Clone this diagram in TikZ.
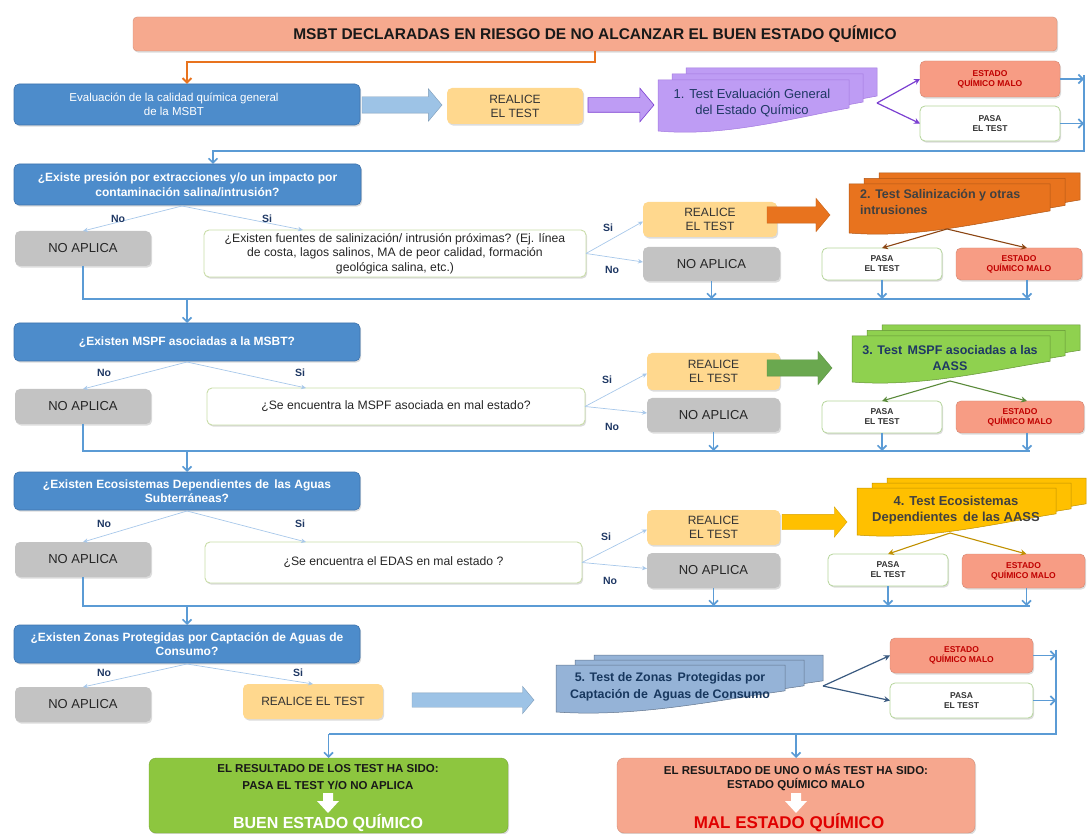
\documentclass[tikz,border=0pt]{standalone}
\usepackage{fontspec}
\setmainfont{Liberation Sans}
\usetikzlibrary{arrows.meta,shapes.arrows,shadows,calc}

\definecolor{titlefill}{HTML}{F6A98E}
\definecolor{orangeline}{HTML}{E8731E}
\definecolor{qblue}{HTML}{4D8CCB}
\definecolor{qbluedark}{HTML}{3F74AD}
\definecolor{realfill}{HTML}{FFD88E}
\definecolor{grayfill}{HTML}{C3C3C3}
\definecolor{qgreen}{HTML}{C9DDA8}
\definecolor{pasagreen}{HTML}{B5D59A}
\definecolor{malofill}{HTML}{F79C84}
\definecolor{malored}{HTML}{C00000}
\definecolor{navy}{HTML}{1F3864}
\definecolor{branchblue}{HTML}{A8C8EA}
\definecolor{flowblue}{HTML}{5B9BD5}
\definecolor{lightarrow}{HTML}{9DC3E6}
\definecolor{purplefill}{HTML}{BE9CF4}
\definecolor{purpleline}{HTML}{7B3FD1}
\definecolor{orangedoc}{HTML}{E8731E}
\definecolor{brownline}{HTML}{8B4513}
\definecolor{greendoc}{HTML}{8FD14F}
\definecolor{greenarrow}{HTML}{6AA84F}
\definecolor{greenline}{HTML}{5A8A3A}
\definecolor{yellowdoc}{HTML}{FFC000}
\definecolor{yellowline}{HTML}{C09000}
\definecolor{bluedoc}{HTML}{95B3D7}
\definecolor{bluedoctext}{HTML}{17375E}
\definecolor{darkslate}{HTML}{3A5A80}
\definecolor{finalgreen}{HTML}{8DC63F}
\definecolor{finalred}{HTML}{F6A78E}
\definecolor{malred}{HTML}{E00000}

% box from corner (x1,y1) to (x2,y2), pixel coordinates, y downwards
\newcommand{\bx}[7][]{\node[#2, minimum width={(#5-#3)*1pt}, minimum height={(#6-#4)*1pt}, #1] (#7) at ({(#3+#5)/2},{(#4+#6)/2})}
% stack of three documents with wavy bottom
\newcommand{\docstack}[7]{%
  \foreach \k in {2,1,0}{%
    \path[#1, shift={({\k*#6},{-\k*#7})}] (#2,#3) -- (#4,#3) -- (#4,{#3+0.55*(#5-#3)})
      .. controls ({#2+0.7*(#4-#2)},{#3+0.75*(#5-#3)}) and ({#2+0.35*(#4-#2)},{#3+1.12*(#5-#3)}) .. (#2,#5) -- cycle;
  }}
% white down arrow inside the result boxes
\newcommand{\whitedown}[1]{%
  \fill[white] ({#1-5},793) -- ({#1+5},793) -- ({#1+5},801) -- ({#1+11},801) -- (#1,813) -- ({#1-11},801) -- ({#1-5},801) -- cycle;}

\begin{document}
\begin{tikzpicture}[x=1pt,y=-1pt,
  shade/.style={drop shadow={opacity=0.28, shadow xshift=1.2pt, shadow yshift=-1.6pt}},
  box/.style={rounded corners=5pt, inner sep=1pt, outer sep=0pt, align=center},
  titlebox/.style={box, rounded corners=4pt, fill=titlefill, draw=titlefill!85!black, line width=0.4pt, text=black!90, font=\bfseries\fontsize{15.5}{17}\selectfont, shade},
  qst/.style={box, fill=qblue, draw=qbluedark, line width=0.6pt, text=white, font=\bfseries\fontsize{12}{14.5}\selectfont, shade},
  realice/.style={box, fill=realfill, text=black!80, font=\fontsize{12}{14}\selectfont, shade},
  noap/.style={box, fill=grayfill, text=black!85, font=\fontsize{13}{15}\selectfont, shade},
  qbox/.style={box, fill=white, draw=qgreen, line width=0.9pt, text=black!85, font=\fontsize{12.2}{14.5}\selectfont, shade},
  pasa/.style={box, fill=white, draw=pasagreen, line width=0.8pt, text=black!80, font=\bfseries\fontsize{8.5}{10}\selectfont, shade},
  malo/.style={box, fill=malofill, draw=malofill!85!black, line width=0.4pt, text=malored, font=\bfseries\fontsize{8.5}{10}\selectfont, shade},
  lbl/.style={text=navy, font=\bfseries\fontsize{10.5}{12}\selectfont, inner sep=1pt},
  branch/.style={draw=branchblue, line width=0.7pt, -{Stealth[length=5pt,width=4.5pt]}},
  flow/.style={draw=flowblue, line width=1.6pt},
  flowarr/.style={flow, -{Straight Barb[length=4.5pt,width=9pt]}},
  blockarrow/.style={single arrow, inner xsep=0pt, outer sep=0pt, single arrow tip angle=100, anchor=tail},
  doctext/.style={inner sep=0pt, align=center},
  finbox/.style={box, rounded corners=7pt, shade},
  fintext/.style={inner sep=0pt, text=black!90, font=\bfseries\fontsize{11.5}{13}\selectfont},
  ]
\useasboundingbox (0,0) rectangle (1088,834);

% ---------------- title and row 1
\bx{titlebox}{133}{17}{1057}{51}{title}{MSBT DECLARADAS EN RIESGO DE NO ALCANZAR EL BUEN ESTADO QUÍMICO};
\bx{qst}{14}{84}{360}{125}{eval}{};
\node[inner sep=0pt, align=center, text=white, font=\fontsize{11.5}{14}\selectfont] (evaltxt) at (174,104) {Evaluación de la calidad química general\\de la MSBT};
\draw[orangeline, line width=2pt, -{Straight Barb[length=4.5pt,width=9pt]}] (title.south) -- ++(0,11) -| (eval.north);

\node[blockarrow, fill=lightarrow, draw=lightarrow!80!black, line width=0.4pt, minimum height=80pt, inner ysep=8pt, single arrow head extend=8pt] (a1) at (362,105) {};
\bx{realice}{447}{88}{583}{124}{real1}{REALICE\\EL TEST};
\node[blockarrow, fill=purplefill, draw=purpleline, line width=0.6pt, minimum height=66pt, inner ysep=7pt, single arrow head extend=9.5pt] (p1) at (588,105) {};
\docstack{fill=purplefill, draw=purpleline!70, line width=0.5pt}{658}{80}{849}{131}{14}{6}
\node[doctext, text=navy, font=\fontsize{13}{16}\selectfont] (d1) at (752,103) {1. Test Evaluación General\\del Estado Químico};
\bx{malo}{920}{61}{1060}{97}{malo1}{ESTADO\\QUÍMICO MALO};
\bx{pasa}{920}{106}{1060}{141}{pasa1}{PASA\\EL TEST};
\coordinate (d1o) at (877,103);
\draw[purpleline, line width=1.2pt, -{Stealth[length=6pt,width=6pt]}] (d1o) -- (malo1.west);
\draw[purpleline, line width=1.2pt, -{Stealth[length=6pt,width=6pt]}] (d1o) -- (pasa1.west);
\coordinate (R1) at (1084,151);
\coordinate (A2) at (213,164);
\draw[flowarr] (malo1.east) -- (malo1.east -| R1);
\draw[flowarr] (pasa1.east) -- (pasa1.east -| R1);
\draw[flowarr] ($(malo1.east -| R1)+(0,-4)$) -- (R1) -- (R1 -| A2) -- (A2);

% ---------------- row 2
\bx{qst}{14}{164}{361}{205}{q2}{¿Existe presión por extracciones y/o un impacto por\\contaminación salina/intrusión?};
\bx{noap}{15}{231}{151}{266}{n2}{NO APLICA};
\bx{qbox}{204}{230}{586}{277}{c2}{¿Existen fuentes de salinización/ intrusión próximas? (Ej. línea\\de costa, lagos salinos, MA de peor calidad, formación\\geológica salina, etc.)};
\coordinate (b2) at (182,206);
\draw[branch] (b2) -- (n2.north);
\draw[branch] (b2) -- ($(c2.north west)+(99,0)$);
\node[lbl] (no2) at (118,219) {No};
\node[lbl] (si2) at (267,219) {Si};
\bx{realice}{643}{202}{777}{237}{real2}{REALICE\\EL TEST};
\bx{noap}{643}{247}{780}{281}{n2b}{NO APLICA};
\draw[branch] (c2.east) -- ($(real2.west)+(0,2)$);
\draw[branch] (c2.east) -- ($(n2b.west)+(0,-2)$);
\node[lbl] (si2b) at (608,228) {Si};
\node[lbl] (no2b) at (612,270) {No};
\node[blockarrow, fill=orangedoc, draw=orangedoc!85!black, line width=0.4pt, minimum height=63pt, inner ysep=8pt, single arrow head extend=8.5pt] (o2) at (767,215) {};
\docstack{fill=orangedoc, draw=orangedoc!75!black, line width=0.5pt}{849}{184}{1050}{233}{15}{5.5}
\node[doctext, anchor=north west, align=left, text=black!75, font=\bfseries\fontsize{12.5}{16}\selectfont] (d2) at (860,189) {2. Test Salinización y otras\\intrusiones};
\bx{pasa}{822}{248}{942}{280}{pasa2}{PASA\\EL TEST};
\bx{malo}{956}{248}{1082}{280}{malo2}{ESTADO\\QUÍMICO MALO};
\coordinate (d2o) at (947,229);
\draw[brownline, line width=1.1pt, -{Stealth[length=6pt,width=6pt]}] (d2o) -- (pasa2.north);
\draw[brownline, line width=1.1pt, -{Stealth[length=6pt,width=6pt]}] (d2o) -- ($(malo2.north)+(8,0)$);
\coordinate (L2) at (1030,299);
\draw[flow] (n2.south) -- (n2.south |- L2) -- (L2);
\draw[flowarr] (n2b.south) -- (n2b.south |- L2);
\draw[flowarr] (pasa2.south) -- (pasa2.south |- L2);
\draw[flowarr] ($(malo2.south)+(8,0)$) -- ($(malo2.south |- L2)+(8,0)$);

% ---------------- row 3
\bx{qst}{14}{323}{360}{361}{q3}{¿Existen MSPF asociadas a la MSBT?};
\draw[flowarr] (q3.north |- L2) -- (q3.north);
\bx{noap}{15}{389}{151}{424}{n3}{NO APLICA};
\bx{qbox}{207}{388}{585}{425}{c3}{¿Se encuentra la MSPF asociada en mal estado?};
\coordinate (b3) at (187,362);
\draw[branch] (b3) -- (n3.north);
\draw[branch] (b3) -- ($(c3.north west)+(99,0)$);
\node[lbl] (no3) at (104,373) {No};
\node[lbl] (si3) at (300,373) {Si};
\bx{realice}{647}{353}{780}{390}{real3}{REALICE\\EL TEST};
\bx{noap}{647}{398}{780}{432}{n3b}{NO APLICA};
\draw[branch] (c3.east) -- ($(real3.west)+(0,2)$);
\draw[branch] (c3.east) -- ($(n3b.west)+(0,-2)$);
\node[lbl] (si3b) at (607,380) {Si};
\node[lbl] (no3b) at (612,427) {No};
\node[blockarrow, fill=greenarrow, draw=greenarrow!85!black, line width=0.4pt, minimum height=65pt, inner ysep=8pt, single arrow head extend=8.5pt] (g3) at (767,368) {};
\docstack{fill=greendoc, draw=greendoc!70!black, line width=0.5pt}{852}{336}{1050}{382}{15}{5.5}
\node[doctext, text=navy, font=\bfseries\fontsize{12.5}{16}\selectfont] (d3) at (950,358) {3. Test\, MSPF asociadas a las\\AASS};
\bx{pasa}{822}{401}{942}{433}{pasa3}{PASA\\EL TEST};
\bx{malo}{956}{401}{1084}{433}{malo3}{ESTADO\\QUÍMICO MALO};
\coordinate (d3o) at (950,381);
\draw[greenline, line width=1.1pt, -{Stealth[length=6pt,width=6pt]}] (d3o) -- (pasa3.north);
\draw[greenline, line width=1.1pt, -{Stealth[length=6pt,width=6pt]}] (d3o) -- ($(malo3.north)+(7,0)$);
\coordinate (L3) at (1030,451);
\draw[flow] (n3.south) -- (n3.south |- L3) -- (L3);
\draw[flowarr] (n3b.south) -- (n3b.south |- L3);
\draw[flowarr] (pasa3.south) -- (pasa3.south |- L3);
\draw[flowarr] ($(malo3.south)+(7,0)$) -- ($(malo3.south |- L3)+(7,0)$);

% ---------------- row 4
\bx{qst}{14}{472}{360}{510}{q4}{¿Existen Ecosistemas Dependientes de\, las Aguas\\Subterráneas?};
\draw[flowarr] (q4.north |- L3) -- (q4.north);
\bx{noap}{15}{542}{151}{577}{n4}{NO APLICA};
\bx{qbox}{205}{542}{582}{583}{c4}{¿Se encuentra el EDAS en mal estado ?};
\coordinate (b4) at (187,511);
\draw[branch] (b4) -- (n4.north);
\draw[branch] (b4) -- ($(c4.north west)+(101,0)$);
\node[lbl] (no4) at (104,524) {No};
\node[lbl] (si4) at (300,524) {Si};
\bx{realice}{647}{510}{780}{545}{real4}{REALICE\\EL TEST};
\bx{noap}{647}{553}{780}{588}{n4b}{NO APLICA};
\draw[branch] (c4.east) -- ($(real4.west)+(0,2)$);
\draw[branch] (c4.east) -- ($(n4b.west)+(0,-2)$);
\node[lbl] (si4b) at (606,537) {Si};
\node[lbl] (no4b) at (610,581) {No};
\node[blockarrow, fill=yellowdoc, draw=yellowdoc!85!black, line width=0.4pt, minimum height=65pt, inner ysep=7.5pt, single arrow head extend=7.5pt] (y4) at (782,522) {};
\docstack{fill=yellowdoc, draw=yellowdoc!75!black, line width=0.5pt}{857}{488}{1056}{535}{15}{5}
\node[doctext, text=black!75, font=\bfseries\fontsize{13}{16.5}\selectfont] (d4) at (956,510) {4. Test Ecosistemas\\Dependientes\, de las AASS};
\bx{pasa}{828}{554}{948}{586}{pasa4}{PASA\\EL TEST};
\bx{malo}{962}{554}{1085}{588}{malo4}{ESTADO\\QUÍMICO MALO};
\coordinate (d4o) at (950,533);
\draw[yellowline, line width=1.1pt, -{Stealth[length=6pt,width=6pt]}] (d4o) -- (pasa4.north);
\draw[yellowline, line width=1.1pt, -{Stealth[length=6pt,width=6pt]}] (d4o) -- ($(malo4.north)+(3,0)$);
\coordinate (L4) at (1030,606);
\draw[flow] (n4.south) -- (n4.south |- L4) -- (L4);
\draw[flowarr] (n4b.south) -- (n4b.south |- L4);
\draw[flowarr] (pasa4.south) -- (pasa4.south |- L4);
\draw[flowarr] ($(malo4.south)+(3,0)$) -- ($(malo4.south |- L4)+(3,0)$);

% ---------------- row 5
\bx{qst}{14}{625}{360}{663}{q5}{¿Existen Zonas Protegidas por Captación de Aguas de\\Consumo?};
\draw[flowarr] (q5.north |- L4) -- (q5.north);
\bx{noap}{15}{687}{151}{722}{n5}{NO APLICA};
\bx{realice}{243}{684}{383}{719}{real5}{REALICE EL TEST};
\coordinate (b5) at (187,664);
\draw[branch] (b5) -- (n5.north);
\draw[branch] (b5) -- (real5.north);
\node[lbl] (no5) at (104,673) {No};
\node[lbl] (si5) at (298,673) {Si};
\node[blockarrow, fill=lightarrow, draw=lightarrow!80!black, line width=0.4pt, minimum height=122pt, inner ysep=7pt, single arrow head extend=6.5pt] (a5) at (412,700) {};
\docstack{fill=bluedoc, draw=bluedoc!65!black, line width=0.5pt}{556}{665}{785}{712}{19}{5}
\node[doctext, text=bluedoctext, font=\bfseries\fontsize{12.4}{16.5}\selectfont] (d5) at (670,687) {5. Test de Zonas\, Protegidas por\\Captación de\, Aguas de Consumo};
\bx{malo}{890}{638}{1033}{673}{malo5}{ESTADO\\QUÍMICO MALO};
\bx{pasa}{890}{683}{1033}{718}{pasa5}{PASA\\EL TEST};
\coordinate (d5o) at (823,686);
\draw[darkslate, line width=1.2pt, -{Stealth[length=6pt,width=6pt]}] (d5o) -- (malo5.west);
\draw[darkslate, line width=1.2pt, -{Stealth[length=6pt,width=6pt]}] (d5o) -- (pasa5.west);
\coordinate (R5) at (1056,734);
\draw[flowarr] (malo5.east) -- (malo5.east -| R5);
\draw[flowarr] (pasa5.east) -- (pasa5.east -| R5);

% ---------------- final results
\bx{finbox, fill=finalgreen, draw=finalgreen!85!black, line width=0.4pt}{149}{758}{508}{833}{gfin}{};
\bx{finbox, fill=finalred, draw=finalred!85!black, line width=0.4pt}{617}{758}{975}{833}{rfin}{};
\draw[flow] ($(malo5.east -| R5)+(0,-6)$) -- (R5) -- (R5 -| gfin.north);
\draw[flowarr] (R5 -| gfin.north) -- (gfin.north);
\draw[flowarr] (R5 -| rfin.north) -- (rfin.north);

\node[fintext] (g1) at (328,769) {EL RESULTADO DE LOS TEST HA SIDO:};
\node[fintext] (g2) at (328,785) {PASA EL TEST Y/O NO APLICA};
\whitedown{328}
\node[inner sep=0pt, text=white, font=\bfseries\fontsize{16}{18}\selectfont] (g3) at (328,823) {BUEN ESTADO QUÍMICO};

\node[fintext] (r1) at (796,769) {EL RESULTADO DE UNO O MÁS TEST HA SIDO:};
\node[fintext] (r2) at (796,785) {ESTADO QUÍMICO MALO};
\whitedown{796}
\node[inner sep=0pt, text=malred, font=\bfseries\fontsize{17}{19}\selectfont] (r3) at (789,823) {MAL ESTADO QUÍMICO};
\end{tikzpicture}
\end{document}
